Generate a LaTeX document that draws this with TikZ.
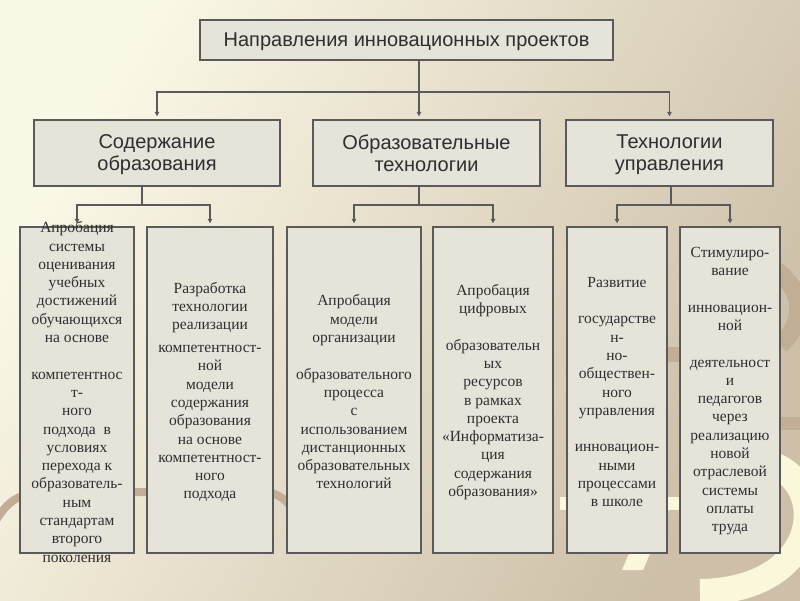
\documentclass[tikz,border=0pt]{standalone}
\usepackage{fontspec}
\setmainfont{Liberation Serif}
\setsansfont{Liberation Sans}
\usetikzlibrary{arrows.meta,calc}
\definecolor{bgA}{HTML}{FAF8E6}
\definecolor{bgM}{HTML}{E2D9C4}
\definecolor{bgB}{HTML}{CDBFA8}
\definecolor{boxfill}{HTML}{E6E3D9}
\definecolor{boxline}{HTML}{5A5A5A}
\definecolor{txt}{HTML}{2E2E2E}
\definecolor{decobrown}{HTML}{C2AE95}
\definecolor{decopale}{HTML}{FBF7DA}
\begin{document}
\begin{tikzpicture}[x=1pt,y=-1pt,
  hbox/.style={draw=boxline, line width=1.4pt, fill=boxfill, inner sep=0pt,
    font=\sffamily\fontsize{20}{22}\selectfont, text=txt, align=center, text depth=0pt},
  lbox/.style={draw=boxline, line width=1.4pt, fill=boxfill, inner sep=0pt,
    minimum height=326pt},
  ltext/.style={font=\fontsize{15.5}{18.3}\selectfont, text=txt, align=center, inner sep=0pt},
  conn/.style={draw=boxline, line width=1.1pt},
  arr/.style={conn, -{Triangle[length=4.5pt,width=4.5pt]}, shorten >=3pt}]
\useasboundingbox (0,0) rectangle (800,600);
\shade[top color=bgA, middle color=bgM, bottom color=bgB, shading angle=60] (0,0) rectangle (800,600);

% background artwork
\draw[decobrown, line width=8pt] (-5,522) .. controls (8,500) and (20,493) .. (45,492) -- (262,492) .. controls (278,492) and (288,500) .. (296,515);
\draw[decobrown, line width=18pt] (690,265) .. controls (770,235) and (830,300) .. (780,345);
\fill[decobrown] (600,347) rectangle (700,362);
\fill[decobrown] (770,417) rectangle (800,430);
\fill[decopale] (560,497) rectangle (760,510);
\draw[decopale, line width=26pt] (760,462) .. controls (830,470) and (830,590) .. (700,592);
\fill[decopale] (622,570) -- (643,570) -- (673,500) -- (652,500) -- cycle;

% level 1
\node[hbox, minimum width=413pt, minimum height=40pt] (top) at (406.5,40) {Направления инновационных проектов};
% level 2
\node[hbox, minimum width=246pt, minimum height=66pt] (l2a) at (157,153) {Содержание\\образования};
\node[hbox, minimum width=227pt, minimum height=66pt] (l2b) at (426.5,153) {Образовательные\\технологии};
\node[hbox, minimum width=207pt, minimum height=66pt] (l2c) at (669.5,153) {Технологии\\управления};
% level 3 boxes
\node[lbox, minimum width=114pt] (b1) at (77,390) {};
\node[lbox, minimum width=126pt] (b2) at (210,390) {};
\node[lbox, minimum width=134pt] (b3) at (354,390) {};
\node[lbox, minimum width=120pt] (b4) at (493,390) {};
\node[lbox, minimum width=100pt] (b5) at (617,390) {};
\node[lbox, minimum width=100pt] (b6) at (730,390) {};

% level 3 texts
\node[ltext, yshift=-2pt] (t1) at (b1.center) {Апробация\\системы\\оценивания\\учебных\\достижений\\обучающихся\\на основе\\[18.3pt]компетентнос\\т-\\ного\\подхода\enspace в\\условиях\\перехода к\\образователь-\\ным\\стандартам\\второго\\поколения};
\node[ltext, yshift=-2pt] (t2) at (b2.center) {Разработка\\технологии\\реализации\\[4.5pt]компетентност-\\ной\\модели\\содержания\\образования\\на основе\\компетентност-\\ного\\подхода};
\node[ltext, yshift=-2pt] (t3) at (b3.center) {Апробация\\модели\\организации\\[18.3pt]образовательного\\процесса\\с\\использованием\\дистанционных\\образовательных\\технологий};
\node[ltext, yshift=-2pt] (t4) at (b4.center) {Апробация\\цифровых\\[18.3pt]образовательн\\ых\\ресурсов\\в рамках\\проекта\\«Информатиза-\\ция\\содержания\\образования»};
\node[ltext, yshift=-2pt] (t5) at (b5.center) {Развитие\\[18.3pt]государстве\\н-\\но-\\обществен-\\ного\\управления\\[18.3pt]инновацион-\\ными\\процессами\\в школе};
\node[ltext, yshift=-1pt] (t6) at (b6.center) {Стимулиро-\\вание\\[18.3pt]инновацион-\\ной\\[18.3pt]деятельност\\и\\педагогов\\через\\реализацию\\новой\\отраслевой\\системы\\оплаты\\труда};

% connectors level 1 -> 2
\coordinate (j0) at (419,92);
\draw[conn] (top.south -| j0) -- (j0);
\draw[arr] (j0) -| (l2a.north);
\draw[arr] (j0) -- (j0 |- l2b.north);
\draw[arr] (j0) -| (l2c.north);
% connectors level 2 -> 3
\coordinate (ja) at (142,205);
\coordinate (jb) at (419,205);
\coordinate (jc) at (671,205);
\draw[conn] (l2a.south -| ja) -- (ja);
\draw[arr] (ja) -| (b1.north);
\draw[arr] (ja) -| (b2.north);
\draw[conn] (l2b.south -| jb) -- (jb);
\draw[arr] (jb) -| (b3.north);
\draw[arr] (jb) -| (b4.north);
\draw[conn] (l2c.south -| jc) -- (jc);
\draw[arr] (jc) -| (b5.north);
\draw[arr] (jc) -| (b6.north);
\end{tikzpicture}
\end{document}
